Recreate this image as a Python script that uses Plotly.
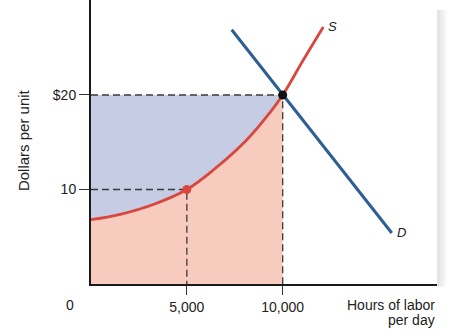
import plotly.graph_objects as go

# ---- data ----
supply_x = [0, 1580, 3320, 5000, 6380, 8120, 9165, 10000, 11075, 12118]
supply_y = [6.8, 7.4, 8.47, 10, 12.06, 15.24, 17.7, 20, 23.7, 27.2]
demand_x = [7340, 15690]
demand_y = [26.9, 5.4]
eq_x, eq_y = 10000, 20
pt_x, pt_y = 5000, 10
x_ticks = [5000, 10000]
x_tick_text = ["5,000", "10,000"]
y_ticks = [10, 20]
y_tick_text = ["10", "$20"]
X_RANGE = [0, 18050]
Y_RANGE = [0, 30.05]

RED = "#d9463d"
BLUE = "#2c5f93"
BLUE_FILL = "#c5cce3"
PINK_FILL = "#f8cbbf"
DASH = "#3a3a3a"
FONT = "Liberation Sans, Arial, sans-serif"

n_eq = supply_x.index(eq_x) + 1
sx_seg = supply_x[:n_eq]
sy_seg = supply_y[:n_eq]

fig = go.Figure()

# blue area between price line and supply curve
fig.add_trace(go.Scatter(x=[supply_x[0], eq_x], y=[eq_y, eq_y], mode="lines",
                         line=dict(width=0, color=BLUE_FILL), hoverinfo="skip", showlegend=False))
fig.add_trace(go.Scatter(x=sx_seg, y=sy_seg, mode="lines", fill="tonexty",
                         fillcolor=BLUE_FILL, line=dict(width=0, shape="spline", color=BLUE_FILL),
                         hoverinfo="skip", showlegend=False))
# pink area under supply curve
fig.add_trace(go.Scatter(x=sx_seg, y=sy_seg, mode="lines", fill="tozeroy",
                         fillcolor=PINK_FILL, line=dict(width=0, shape="spline", color=PINK_FILL),
                         hoverinfo="skip", showlegend=False))

# dashed guides
fig.add_trace(go.Scatter(x=[0, eq_x, eq_x], y=[eq_y, eq_y, 0], mode="lines",
                         line=dict(color=DASH, width=1.3, dash="7px,4px"), showlegend=False, hoverinfo="skip"))
fig.add_trace(go.Scatter(x=[0, pt_x, pt_x], y=[pt_y, pt_y, 0], mode="lines",
                         line=dict(color=DASH, width=1.3, dash="7px,4px"), showlegend=False, hoverinfo="skip"))

# demand and supply
fig.add_trace(go.Scatter(x=demand_x, y=demand_y, mode="lines",
                         line=dict(color=BLUE, width=3), showlegend=False))
fig.add_trace(go.Scatter(x=supply_x, y=supply_y, mode="lines",
                         line=dict(color=RED, width=2.8, shape="spline"), showlegend=False))

# points
fig.add_trace(go.Scatter(x=[pt_x], y=[pt_y], mode="markers",
                         marker=dict(color=RED, size=9), showlegend=False))
fig.add_trace(go.Scatter(x=[eq_x], y=[eq_y], mode="markers",
                         marker=dict(color="#111111", size=9), showlegend=False))

anns = [
    dict(x=supply_x[-1], y=supply_y[-1], text="<i>S</i>", showarrow=False, xanchor="left",
         yanchor="middle", xshift=3, font=dict(size=13, color="#222", family=FONT)),
    dict(x=demand_x[-1], y=demand_y[-1], text="<i>D</i>", showarrow=False, xanchor="left",
         yanchor="middle", xshift=3, font=dict(size=13, color="#222", family=FONT)),
    dict(xref="paper", yref="paper", x=-0.06, y=-0.075, text="0", showarrow=False,
         xanchor="center", yanchor="middle", font=dict(size=14, color="#222", family=FONT)),
    dict(xref="paper", yref="paper", x=1.0, y=-0.075, text="Hours of labor", showarrow=False,
         xanchor="right", yanchor="middle", font=dict(size=14, color="#222", family=FONT)),
    dict(xref="paper", yref="paper", x=1.0, y=-0.128, text="per day", showarrow=False,
         xanchor="right", yanchor="middle", font=dict(size=14, color="#222", family=FONT)),
    dict(xref="paper", yref="paper", x=-0.195, y=0.505, text="Dollars per unit", showarrow=False,
         textangle=-90, xanchor="center", yanchor="middle", font=dict(size=15, color="#222", family=FONT)),
]

shadow = [
    dict(type="rect", xref="paper", yref="paper", x0=1.0, x1=1.0 + w, y0=-0.01, y1=0.965,
         fillcolor="rgba(0,0,0,0.035)", line=dict(width=0), layer="below")
    for w in (0.009, 0.018, 0.027)
]

fig.update_layout(
    width=458, height=331,
    margin=dict(l=91, r=21, t=0, b=47),
    paper_bgcolor="white", plot_bgcolor="white",
    annotations=anns,
    shapes=shadow,
    xaxis=dict(range=X_RANGE, showgrid=False, zeroline=False, showline=True, linecolor="#1a1a1a",
               linewidth=2, tickvals=x_ticks, ticktext=x_tick_text, ticks="outside", ticklen=9,
               tickcolor="#333", tickwidth=1.3, tickfont=dict(size=14, color="#222", family=FONT)),
    yaxis=dict(range=Y_RANGE, showgrid=False, zeroline=False, showline=True, linecolor="#1a1a1a",
               linewidth=2, tickvals=y_ticks, ticktext=y_tick_text, ticks="outside", ticklen=10,
               tickcolor="#333", tickwidth=1.3, tickfont=dict(size=14, color="#222", family=FONT)),
)

fig.write_html("out.html")
